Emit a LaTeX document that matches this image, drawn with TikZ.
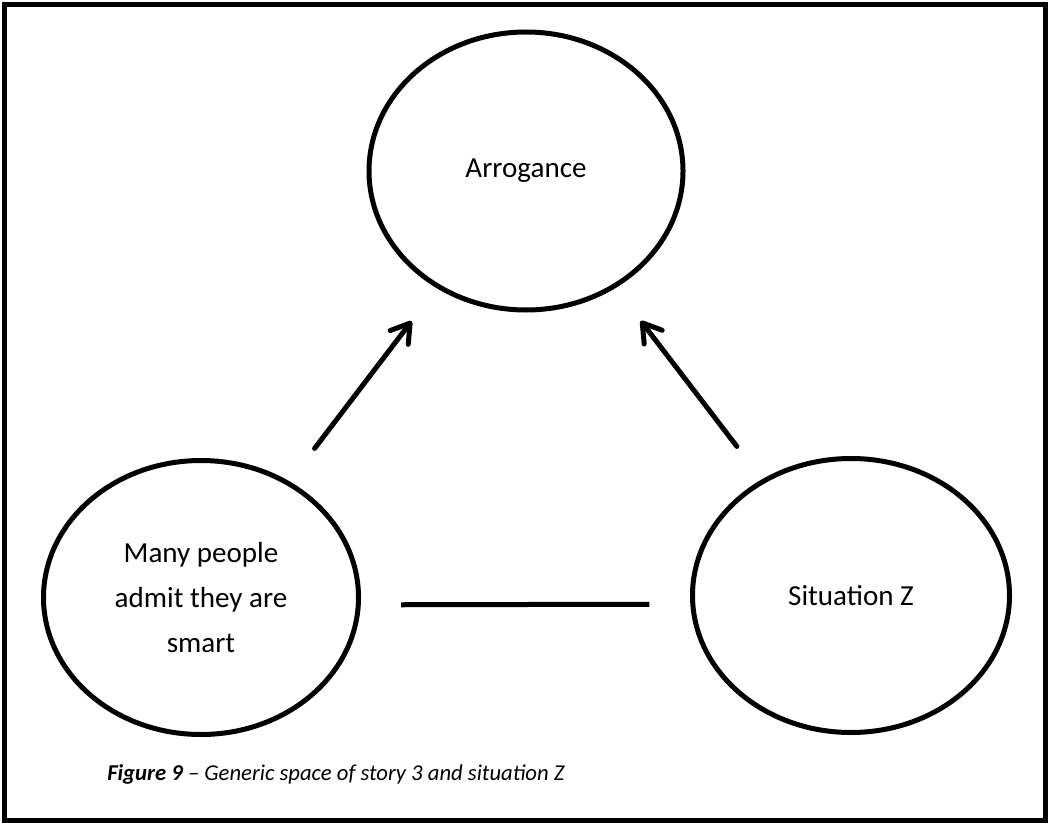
\documentclass[tikz,border=0pt]{standalone}
\usepackage{fontspec}
\setmainfont{Carlito}
\usetikzlibrary{shapes.geometric,arrows.meta}
\begin{document}
\begin{tikzpicture}[x=0.75pt,y=-0.75pt,
  bubble/.style={ellipse,draw,line width=3.75pt,inner sep=0pt,align=center,
    font=\fontsize{21.8}{33.75}\selectfont},
  link/.style={line width=3.75pt},
  pointer/.style={link,line cap=round,
    -{Straight Barb[length=13.5pt,width=17pt,round]},
    shorten <=31pt,shorten >=31pt}]
\useasboundingbox (0,0) rectangle (1048,823);
\draw[line width=3.75pt] (4.5,4.5) rectangle (1045.5,820.5);

\node[bubble,minimum width=235.5pt,minimum height=208.5pt] (top) at (526,171) {Arrogance};
\node[bubble,minimum width=236.25pt,minimum height=205.5pt] (left) at (201,597.5)
  {Many people\\admit they are\\smart};
\node[bubble,minimum width=237.75pt,minimum height=205.5pt] (right) at (851,595.5) {Situation Z};

\draw[pointer] (left) -- (top);
\draw[pointer] (right) -- (top);
\draw[link,shorten <=30pt,shorten >=30.5pt] ([yshift=-5.5pt]left.east) -- ([yshift=-6.5pt]right.west);

\node[anchor=base west,inner sep=0pt,font=\fontsize{17}{20}\selectfont\itshape] (cap) at (107,780)
  {\textbf{Figure 9} – Generic space of story 3 and situation Z};
\end{tikzpicture}
\end{document}
